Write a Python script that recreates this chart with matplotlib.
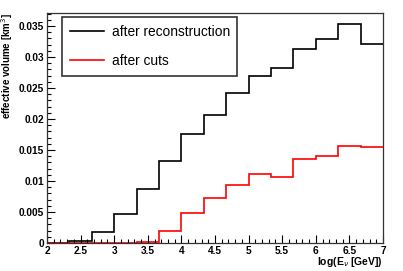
import numpy as np
import matplotlib
matplotlib.use("Agg")
import matplotlib.pyplot as plt
from matplotlib.ticker import MultipleLocator

edges = np.linspace(2, 7, 16)
after_reco = [0.0, 0.0003, 0.0017, 0.0047, 0.0087, 0.0132, 0.0176, 0.0206,
              0.0242, 0.0269, 0.0283, 0.0313, 0.0329, 0.0353, 0.0321]
after_cuts = [0.0, 0.0, 0.0, 0.0, 0.0001, 0.0019, 0.0049, 0.0073,
              0.0093, 0.0111, 0.0107, 0.0136, 0.0140, 0.0156, 0.0155]
xticks = [2, 2.5, 3, 3.5, 4, 4.5, 5, 5.5, 6, 6.5, 7]
yticks = [0, 0.005, 0.01, 0.015, 0.02, 0.025, 0.03, 0.035]
ytick_labels = ["0", "0.005", "0.01", "0.015", "0.02", "0.025", "0.03", "0.035"]

plt.rcParams['font.family'] = ['Liberation Sans', 'DejaVu Sans']

fig = plt.figure(figsize=(4.03, 2.71), dpi=100)
ax = fig.add_axes([47/403, 28/271, 336/403, 230/271])

ax.stairs(after_reco, edges, color='black', lw=1.2, label='after reconstruction', baseline=None)
ax.stairs(after_cuts, edges, color='#ff0000', lw=1.2, label='after cuts', baseline=None)

ax.set_xlim(2, 7)
ax.set_ylim(0, 0.0371)
ax.set_xticks(xticks)
ax.set_xticklabels([("%g" % t) for t in xticks])
ax.set_yticks(yticks)
ax.set_yticklabels(ytick_labels)
ax.xaxis.set_minor_locator(MultipleLocator(0.1))
ax.yaxis.set_minor_locator(MultipleLocator(0.001))
ax.tick_params(which='both', direction='in', top=False, right=False, labelsize=7.3)
ax.tick_params(which='major', length=6, width=0.8)
ax.tick_params(which='minor', length=3, width=0.8)
for lab in ax.get_xticklabels() + ax.get_yticklabels():
    lab.set_fontweight('bold')
ax.tick_params(axis='x', pad=2)
ax.tick_params(axis='y', pad=2)
for s in ax.spines.values():
    s.set_linewidth(0.9)
    s.set_color('#333333')

ax.set_ylabel('effective volume [km$^{3}$]', fontsize=7, fontweight='bold')
ax.yaxis.set_label_coords(-0.095, 1.0, transform=ax.transAxes)
ax.yaxis.label.set_horizontalalignment('right')
ax.set_xlabel(r'log(E$_{\nu}$ [GeV])', fontsize=7.5, fontweight='bold')
ax.xaxis.set_label_coords(1.0, -0.052)
ax.xaxis.label.set_horizontalalignment('right')
ax.xaxis.label.set_verticalalignment('top')

leg = ax.legend(loc='upper left', bbox_to_anchor=((62-47)/336, (243-17)/230),
                fontsize=9.9, frameon=True, fancybox=False, edgecolor='black',
                handlelength=2.5, handletextpad=0.55, borderpad=0.55, labelspacing=1.12,
                borderaxespad=0)
leg.get_frame().set_linewidth(1.2)

fig.savefig('out.png', dpi=100)
